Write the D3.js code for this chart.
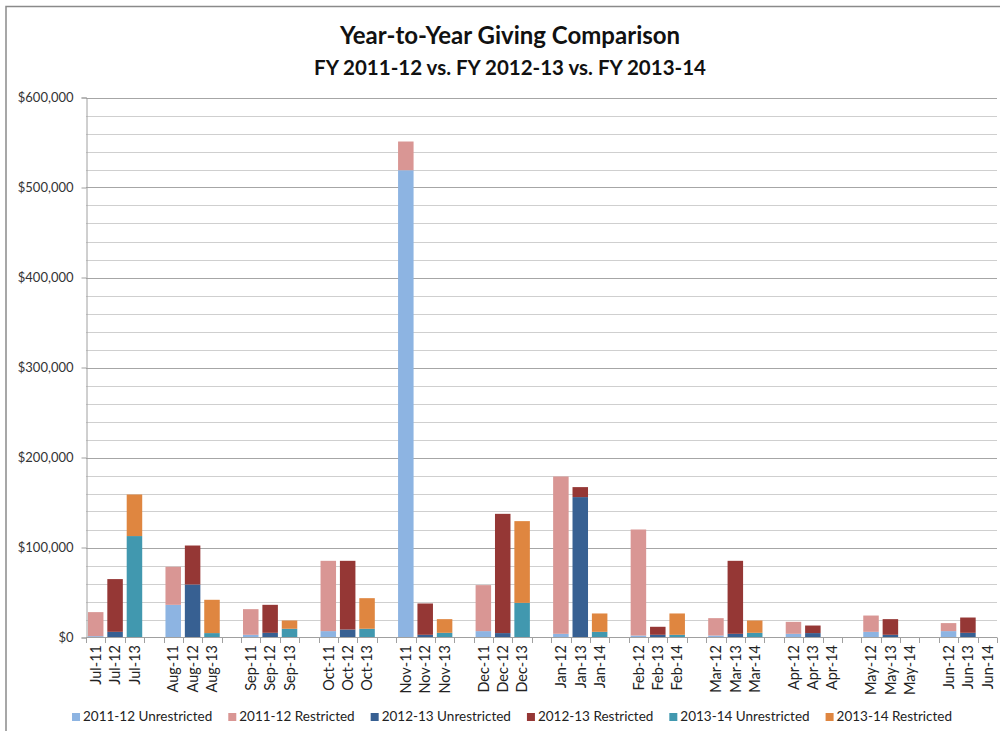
<!DOCTYPE html>
<html>
<head>
<meta charset="utf-8">
<script src="https://cdn.jsdelivr.net/npm/d3@7"></script>
<style>
  body { margin: 0; background: #fff; }
  svg { display: block; font-family: Lato, "Open Sans", sans-serif; }
</style>
</head>
<body>
<div id="chart"></div>
<script>
// Data
//-----------
var months = ["Jul","Aug","Sep","Oct","Nov","Dec","Jan","Feb","Mar","Apr","May","Jun"];

// one label per slot, "" marks the empty slot between month groups
var xLabels = [
  "Jul-11","Jul-12","Jul-13","",
  "Aug-11","Aug-12","Aug-13","",
  "Sep-11","Sep-12","Sep-13","",
  "Oct-11","Oct-12","Oct-13","",
  "Nov-11","Nov-12","Nov-13","",
  "Dec-11","Dec-12","Dec-13","",
  "Jan-12","Jan-13","Jan-14","",
  "Feb-12","Feb-13","Feb-14","",
  "Mar-12","Mar-13","Mar-14","",
  "Apr-12","Apr-13","Apr-14","",
  "May-12","May-13","May-14","",
  "Jun-12","Jun-13","Jun-14"
];

var fiscalYears = ["2011-12","2012-13","2013-14"];

var fy1112Unrestricted = [1500, 36300, 3000, 7100, 519200, 7100, 4100, 2200, 2200, 4100, 6300, 7100];
var fy1112Restricted   = [26700, 42300, 28500, 78100, 31900, 51100, 174800, 117800, 19300, 13300, 18100, 8900];
var fy1213Unrestricted = [6300, 58900, 5200, 8900, 3000, 4900, 156000, 3000, 4100, 4900, 3000, 5200];
var fy1213Restricted   = [58600, 43300, 31100, 76300, 34800, 132500, 11100, 8900, 81100, 8400, 17400, 17000];
var fy1314Unrestricted = [112700, 4900, 9700, 9700, 5200, 38500, 6300, 3000, 5200, 0, 0, 0];
var fy1314Restricted   = [46200, 37000, 9200, 34000, 15200, 90800, 20400, 23700, 13700, 0, 0, 0];

var yTicks = [0, 100000, 200000, 300000, 400000, 500000, 600000];

// Colors
//-----------
var unrestrictedColors = ["#8DB4E2", "#376092", "#4198AF"];
var restrictedColors   = ["#D99694", "#953735", "#DF8640"];

var series = [
  {u: fy1112Unrestricted, r: fy1112Restricted},
  {u: fy1213Unrestricted, r: fy1213Restricted},
  {u: fy1314Unrestricted, r: fy1314Restricted}
];

// Build stacked rows, one per month and fiscal year
var rows = [];
months.forEach(function(m, i) {
  series.forEach(function(s, j) {
    rows.push({slot: i * 4 + j, fy: j, u: s.u[i], r: s.r[i]});
  });
});

// SVG
//-----------
var w = 1000, h = 731;
var svg = d3.select("#chart").append("svg")
  .attr("width", w)
  .attr("height", h);

// chart frame
svg.append("rect")
  .attr("x", 6).attr("y", 6.5)
  .attr("width", 1000).attr("height", 740)
  .attr("fill", "none")
  .attr("stroke", "#8a8a8a")
  .attr("stroke-width", 1.5);

// Scales
//-----------
var xScale = d3.scaleBand(d3.range(xLabels.length), [86, 997])
  .paddingInner(0.2)
  .paddingOuter(0.1);

var yScale = d3.scaleLinear([0, 600000], [637.5, 97.5]);

// Gridlines
//-----------
svg.append("g").selectAll("line")
  .data(d3.range(20000, 600001, 20000))
  .enter().append("line")
  .attr("x1", 86).attr("x2", 997)
  .attr("y1", function(d) { return Math.round(yScale(d)) + 0.5; })
  .attr("y2", function(d) { return Math.round(yScale(d)) + 0.5; })
  .attr("stroke", function(d) { return d % 100000 === 0 ? "#a6a6a6" : "#cfcfcf"; })
  .attr("stroke-width", 1);

// Bars
//-----------
var bars = svg.append("g");
bars.selectAll(".u")
  .data(rows.filter(function(d) { return d.u > 0; }))
  .enter().append("rect")
  .attr("x", function(d) { return xScale(d.slot); })
  .attr("y", function(d) { return yScale(d.u); })
  .attr("width", xScale.bandwidth())
  .attr("height", function(d) { return yScale(0) - yScale(d.u); })
  .attr("fill", function(d) { return unrestrictedColors[d.fy]; });

bars.selectAll(".r")
  .data(rows.filter(function(d) { return d.r > 0; }))
  .enter().append("rect")
  .attr("x", function(d) { return xScale(d.slot); })
  .attr("y", function(d) { return yScale(d.u + d.r); })
  .attr("width", xScale.bandwidth())
  .attr("height", function(d) { return yScale(d.u) - yScale(d.u + d.r); })
  .attr("fill", function(d) { return restrictedColors[d.fy]; });

// Axes
//-----------
var yAxis = d3.axisLeft(yScale)
  .tickValues(yTicks)
  .tickSize(5)
  .tickPadding(8)
  .tickFormat(function(d) { return "$" + d3.format(",")(d); });

var gy = svg.append("g")
  .attr("transform", "translate(86.5,0)")
  .call(yAxis);
gy.select(".domain").attr("stroke", "#a0a0a0");
gy.selectAll(".tick line").attr("stroke", "#a0a0a0");
gy.selectAll(".tick text")
  .attr("font-size", "13px")
  .attr("font-family", "Lato, sans-serif")
  .attr("fill", "#333");

// x axis line and ticks at slot boundaries
var step = xScale.step();
svg.append("line")
  .attr("x1", 86).attr("x2", 997)
  .attr("y1", 637.5).attr("y2", 637.5)
  .attr("stroke", "#a0a0a0");

svg.append("g").selectAll("line")
  .data(d3.range(xLabels.length + 1))
  .enter().append("line")
  .attr("x1", function(k) { return Math.round(86 + k * step) + 0.5; })
  .attr("x2", function(k) { return Math.round(86 + k * step) + 0.5; })
  .attr("y1", 637.5).attr("y2", 643)
  .attr("stroke", "#a0a0a0");

svg.append("g").selectAll("text")
  .data(xLabels)
  .enter().append("text")
  .text(function(d) { return d; })
  .attr("transform", function(d, i) {
    return "translate(" + (xScale(i) + xScale.bandwidth() / 2) + ",645) rotate(-90)";
  })
  .attr("text-anchor", "end")
  .attr("dy", "0.36em")
  .attr("font-size", "14.5px")
  .attr("fill", "#222");

// Title
//-----------
svg.append("text")
  .text("Year-to-Year Giving Comparison")
  .attr("x", 510).attr("y", 44)
  .attr("text-anchor", "middle")
  .attr("font-weight", "bold")
  .attr("font-size", "24px")
  .attr("fill", "#111");

svg.append("text")
  .text("FY 2011-12 vs. FY 2012-13 vs. FY 2013-14")
  .attr("x", 510).attr("y", 75)
  .attr("text-anchor", "middle")
  .attr("font-weight", "bold")
  .attr("font-size", "20.5px")
  .attr("fill", "#111");

// Legend
//-----------
var legendItems = [];
fiscalYears.forEach(function(fy, j) {
  legendItems.push({label: fy + " Unrestricted", color: unrestrictedColors[j]});
  legendItems.push({label: fy + " Restricted", color: restrictedColors[j]});
});

var legend = svg.append("g");
var items = legend.selectAll("g")
  .data(legendItems)
  .enter().append("g");

items.append("rect")
  .attr("width", 8).attr("height", 8)
  .attr("y", 713)
  .attr("fill", function(d) { return d.color; });

items.append("text")
  .text(function(d) { return d.label; })
  .attr("x", 11)
  .attr("y", 721)
  .attr("font-size", "13.5px")
  .attr("fill", "#222");

// lay items out from their measured widths, centred on the plot
var widths = [];
items.select("text").each(function() { widths.push(11 + this.getComputedTextLength()); });
var gap = 16;
var total = d3.sum(widths) + gap * (widths.length - 1);
var lx = 512 - total / 2;
items.attr("transform", function(d, i) {
  var x = lx;
  lx += widths[i] + gap;
  return "translate(" + x + ",0)";
});
</script>
</body>
</html>
